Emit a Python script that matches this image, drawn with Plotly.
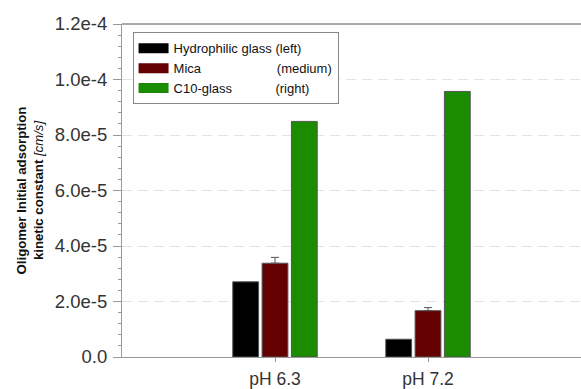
import plotly.graph_objects as go

categories = ["pH 6.3", "pH 7.2"]
series_names = [
    "Hydrophilic glass\u00a0(left)",
    "Mica" + "\u00a0" * 21 + "(medium)",
    "C10-glass" + "\u00a0" * 12 + "(right)",
]
hydrophilic = [2.71e-5, 0.64e-5]
mica = [3.38e-5, 1.67e-5]
mica_err = [0.21e-5, 0.11e-5]
c10 = [8.49e-5, 9.57e-5]
colors = ["#000000", "#640000", "#1b8c00"]
ytick_vals = [0, 2e-5, 4e-5, 6e-5, 8e-5, 1.0e-4, 1.2e-4]
ytick_text = ["0.0", "2.0e-5", "4.0e-5", "6.0e-5", "8.0e-5", "1.0e-4", "1.2e-4"]

FONT = "Liberation Sans, Arial, sans-serif"

fig = go.Figure()
values = [hydrophilic, mica, c10]
for i, (name, vals, col) in enumerate(zip(series_names, values, colors)):
    err = None
    if i == 1:
        err = dict(type="data", symmetric=False, array=mica_err, arrayminus=[0, 0],
                   color="#555555", thickness=1, width=4)
    fig.add_trace(go.Bar(x=categories, y=vals, name=name, showlegend=False,
                         marker=dict(color=col, line=dict(color="#555555", width=1)),
                         error_y=err))
# legend swatches
for name, col in zip(series_names, colors):
    fig.add_trace(go.Scatter(x=[None], y=[None], mode="lines", name=name,
                             line=dict(color=col, width=10)))

fig.update_layout(
    width=581, height=389,
    margin=dict(l=122, r=0, t=24, b=32),
    paper_bgcolor="white", plot_bgcolor="white",
    font=dict(family=FONT, color="#333333"),
    barmode="group", bargap=0.425, bargroupgap=0.12,
    legend=dict(x=0.023, y=0.975, xanchor="left", yanchor="top",
                bgcolor="white", bordercolor="#888888", borderwidth=1,
                font=dict(family=FONT, size=13, color="#111111"),
                tracegroupgap=0),
    showlegend=True,
)
fig.update_xaxes(
    type="category", range=[-1, 2],
    showline=True, linecolor="#999999", linewidth=1,
    ticks="outside", ticklen=4, tickcolor="#999999",
    showgrid=False, zeroline=False, ticklabelstandoff=2,
    tickfont=dict(family=FONT, size=17.5, color="#333333"),
)
fig.update_yaxes(
    range=[0, 1.2e-4], tickmode="array", tickvals=ytick_vals, ticktext=ytick_text,
    showline=True, linecolor="#999999", linewidth=1,
    ticks="outside", ticklen=8, tickcolor="#999999",
    showgrid=True, gridcolor="#e4e4e4", griddash="10px,6px", gridwidth=1,
    zeroline=False, ticklabelstandoff=2,
    minor=dict(tickmode="linear", tick0=0, dtick=4e-6, ticks="outside",
               ticklen=3, tickcolor="#999999", showgrid=False),
    tickfont=dict(family=FONT, size=18.5, color="#333333"),
    title=dict(text="<b>Oligomer Initial adsorption</b><br><b>kinetic constant</b> <i>[cm/s]</i>",
               font=dict(family=FONT, size=13.2, color="#111111"), standoff=8),
)
fig.add_shape(type="line", xref="paper", yref="paper", x0=0, x1=1, y0=1, y1=1,
              line=dict(color="#555555", width=1))

fig.write_html("out.html")
